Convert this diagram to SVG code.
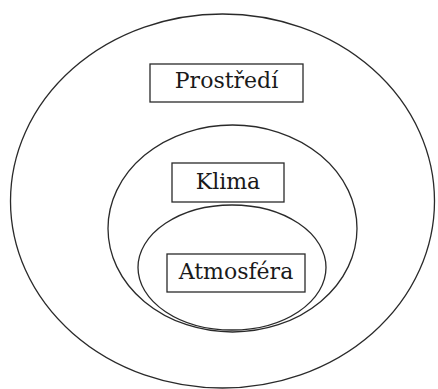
<svg xmlns="http://www.w3.org/2000/svg" width="438" height="389" viewBox="0 0 438 389">
  <style>
    .ring { fill: none; stroke: #2a2a2a; stroke-width: 1.3; }
    .box { fill: #fff; stroke: #2a2a2a; stroke-width: 1.3; }
    .label { font-family: 'DejaVu Serif', serif; font-size: 22px; fill: #1a1a1a; text-anchor: middle; }
  </style>
  <rect width="438" height="389" fill="#fff"/>
  <g id="connectors"/>
  <g id="prostredi">
    <ellipse class="ring" cx="222.5" cy="201" rx="212" ry="187"/>
    <rect class="box" x="150" y="64" width="153" height="38"/>
    <text class="label" x="226.5" y="88">Prostředí</text>
  </g>
  <g id="klima">
    <ellipse class="ring" cx="232.5" cy="228.5" rx="124.5" ry="103.5"/>
    <rect class="box" x="172" y="163" width="112" height="39"/>
    <text class="label" x="228" y="189">Klima</text>
  </g>
  <g id="atmosfera">
    <ellipse class="ring" cx="232" cy="267.5" rx="94" ry="62.5"/>
    <rect class="box" x="167" y="254" width="138" height="38"/>
    <text class="label" x="236" y="279">Atmosféra</text>
  </g>
</svg>
